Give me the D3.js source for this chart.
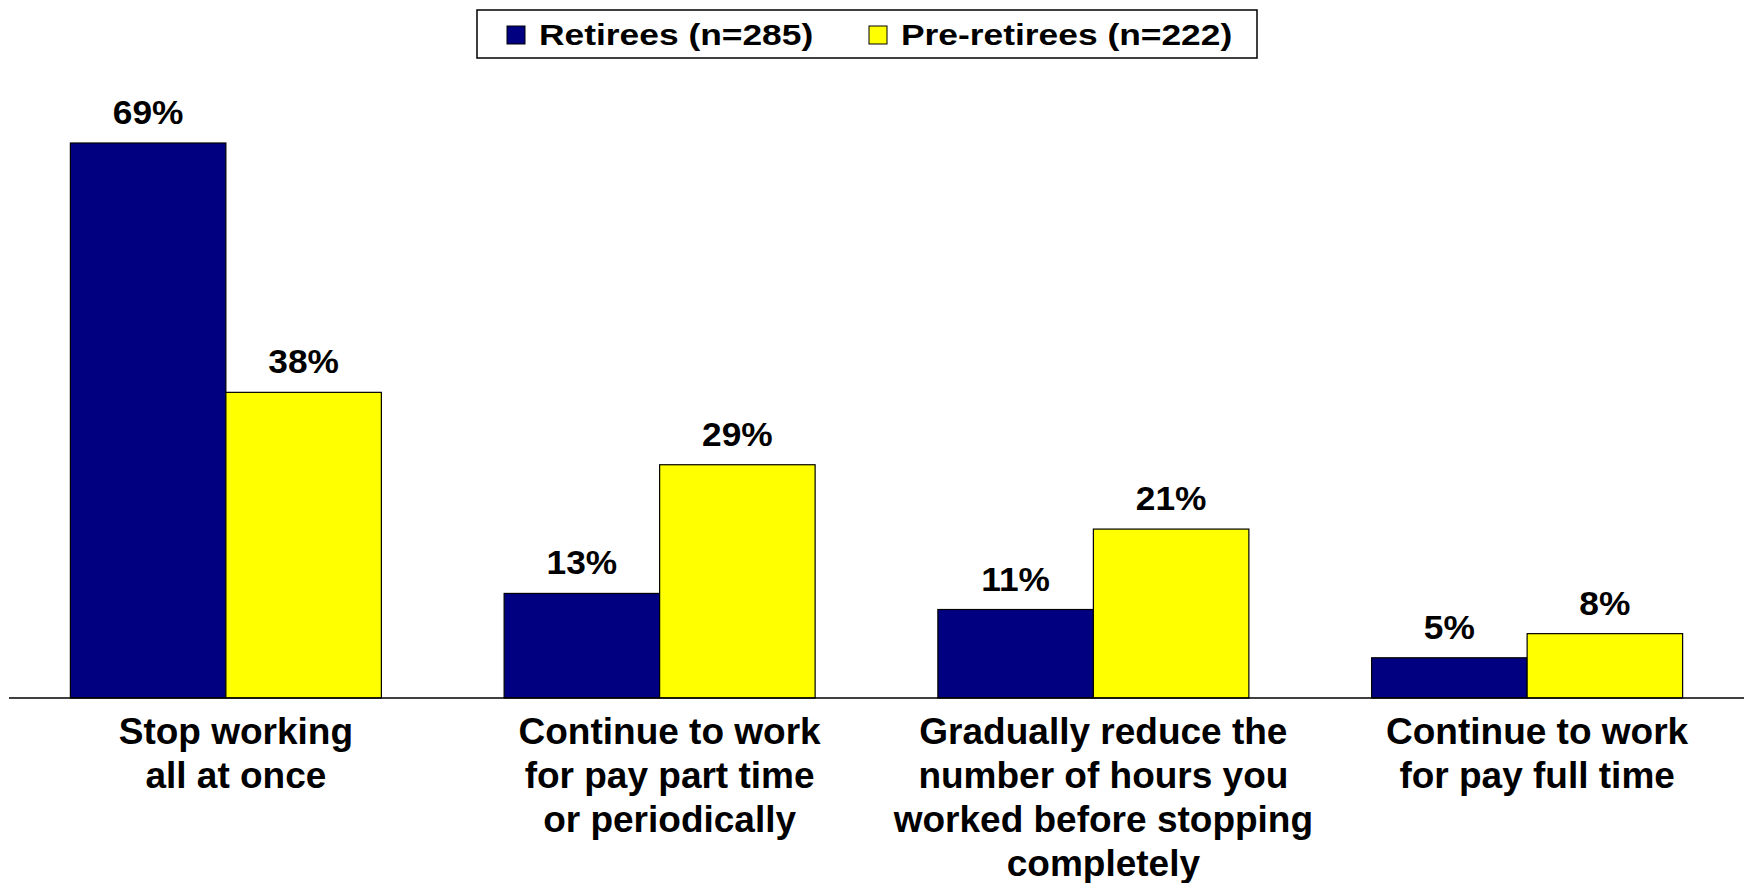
<!DOCTYPE html>
<html>
<head>
<meta charset="utf-8">
<script src="https://cdn.jsdelivr.net/npm/d3@7"></script>
<style>
  body { margin: 0; background: #fff; }
  text { font-family: "Liberation Sans", Arial, sans-serif; font-weight: bold; fill: #000; }
</style>
</head>
<body>
<div id="chart"></div>
<script>
var categories = [
  ["Stop working", "all at once"],
  ["Continue to work", "for pay part time", "or periodically"],
  ["Gradually reduce the", "number of hours you", "worked before stopping", "completely"],
  ["Continue to work", "for pay full time"]
];
var seriesNames = ["Retirees (n=285)", "Pre-retirees (n=222)"];
var seriesColors = ["#000080", "#ffff00"];
var retirees = [69, 13, 11, 5];
var preRetirees = [38, 29, 21, 8];

var width = 1750;
var height = 883;
var axisY = 698;

var svg = d3.select("#chart").append("svg").attr("width", width).attr("height", height);

var rows = categories.map(function (c, i) {
  return { idx: i, lines: c, values: [retirees[i], preRetirees[i]] };
});

var x0 = d3.scaleBand()
  .domain(d3.range(categories.length))
  .range([9, 1744])
  .paddingInner(0.283)
  .paddingOuter(0.1415);

var x1 = d3.scaleBand()
  .domain([0, 1])
  .range([0, x0.bandwidth()]);

var y = d3.scaleLinear()
  .domain([0, d3.max(retirees)])
  .range([axisY, 143]);

var groups = svg.selectAll(".group")
  .data(rows)
  .enter()
  .append("g")
  .attr("class", "group")
  .attr("transform", function (d) { return "translate(" + x0(d.idx) + ",0)"; });

groups.selectAll("rect")
  .data(function (d) { return d.values; })
  .enter()
  .append("rect")
  .attr("x", function (v, i) { return x1(i); })
  .attr("y", function (v) { return y(v); })
  .attr("width", x1.bandwidth())
  .attr("height", function (v) { return axisY - y(v); })
  .attr("fill", function (v, i) { return seriesColors[i]; })
  .attr("stroke", "#000")
  .attr("stroke-width", 1.2);

groups.selectAll(".val")
  .data(function (d) { return d.values; })
  .enter()
  .append("text")
  .attr("class", "val")
  .attr("transform", function (v, i) {
    return "translate(" + (x1(i) + x1.bandwidth() / 2) + "," + (y(v) - 19) + ") scale(1.07,1)";
  })
  .attr("text-anchor", "middle")
  .style("font-size", "33px")
  .text(function (v) { return v + "%"; });

// baseline axis
svg.append("line")
  .attr("x1", 9).attr("x2", 1744)
  .attr("y1", axisY).attr("y2", axisY)
  .attr("stroke", "#000")
  .attr("stroke-width", 1.5);

// category labels
groups.append("text")
  .attr("class", "cat")
  .attr("text-anchor", "middle")
  .style("font-size", "37px")
  .selectAll("tspan")
  .data(function (d) { return d.lines; })
  .enter()
  .append("tspan")
  .attr("x", x0.bandwidth() / 2 + 10)
  .attr("y", function (l, i) { return 744 + i * 44; })
  .text(function (l) { return l; });

// legend
var legend = svg.append("g").attr("class", "legend");
legend.append("rect")
  .attr("x", 477).attr("y", 10)
  .attr("width", 780).attr("height", 48)
  .attr("fill", "#fff")
  .attr("stroke", "#000")
  .attr("stroke-width", 1.5);

var legendX = [507, 869];
seriesNames.forEach(function (name, i) {
  legend.append("rect")
    .attr("x", legendX[i]).attr("y", 26)
    .attr("width", 18).attr("height", 18)
    .attr("fill", seriesColors[i])
    .attr("stroke", "#000")
    .attr("stroke-width", 1);
  legend.append("text")
    .attr("transform", "translate(" + (legendX[i] + 32) + ",45) scale(1.22,1)")
    .style("font-size", "29px")
    .text(name);
});
</script>
</body>
</html>
